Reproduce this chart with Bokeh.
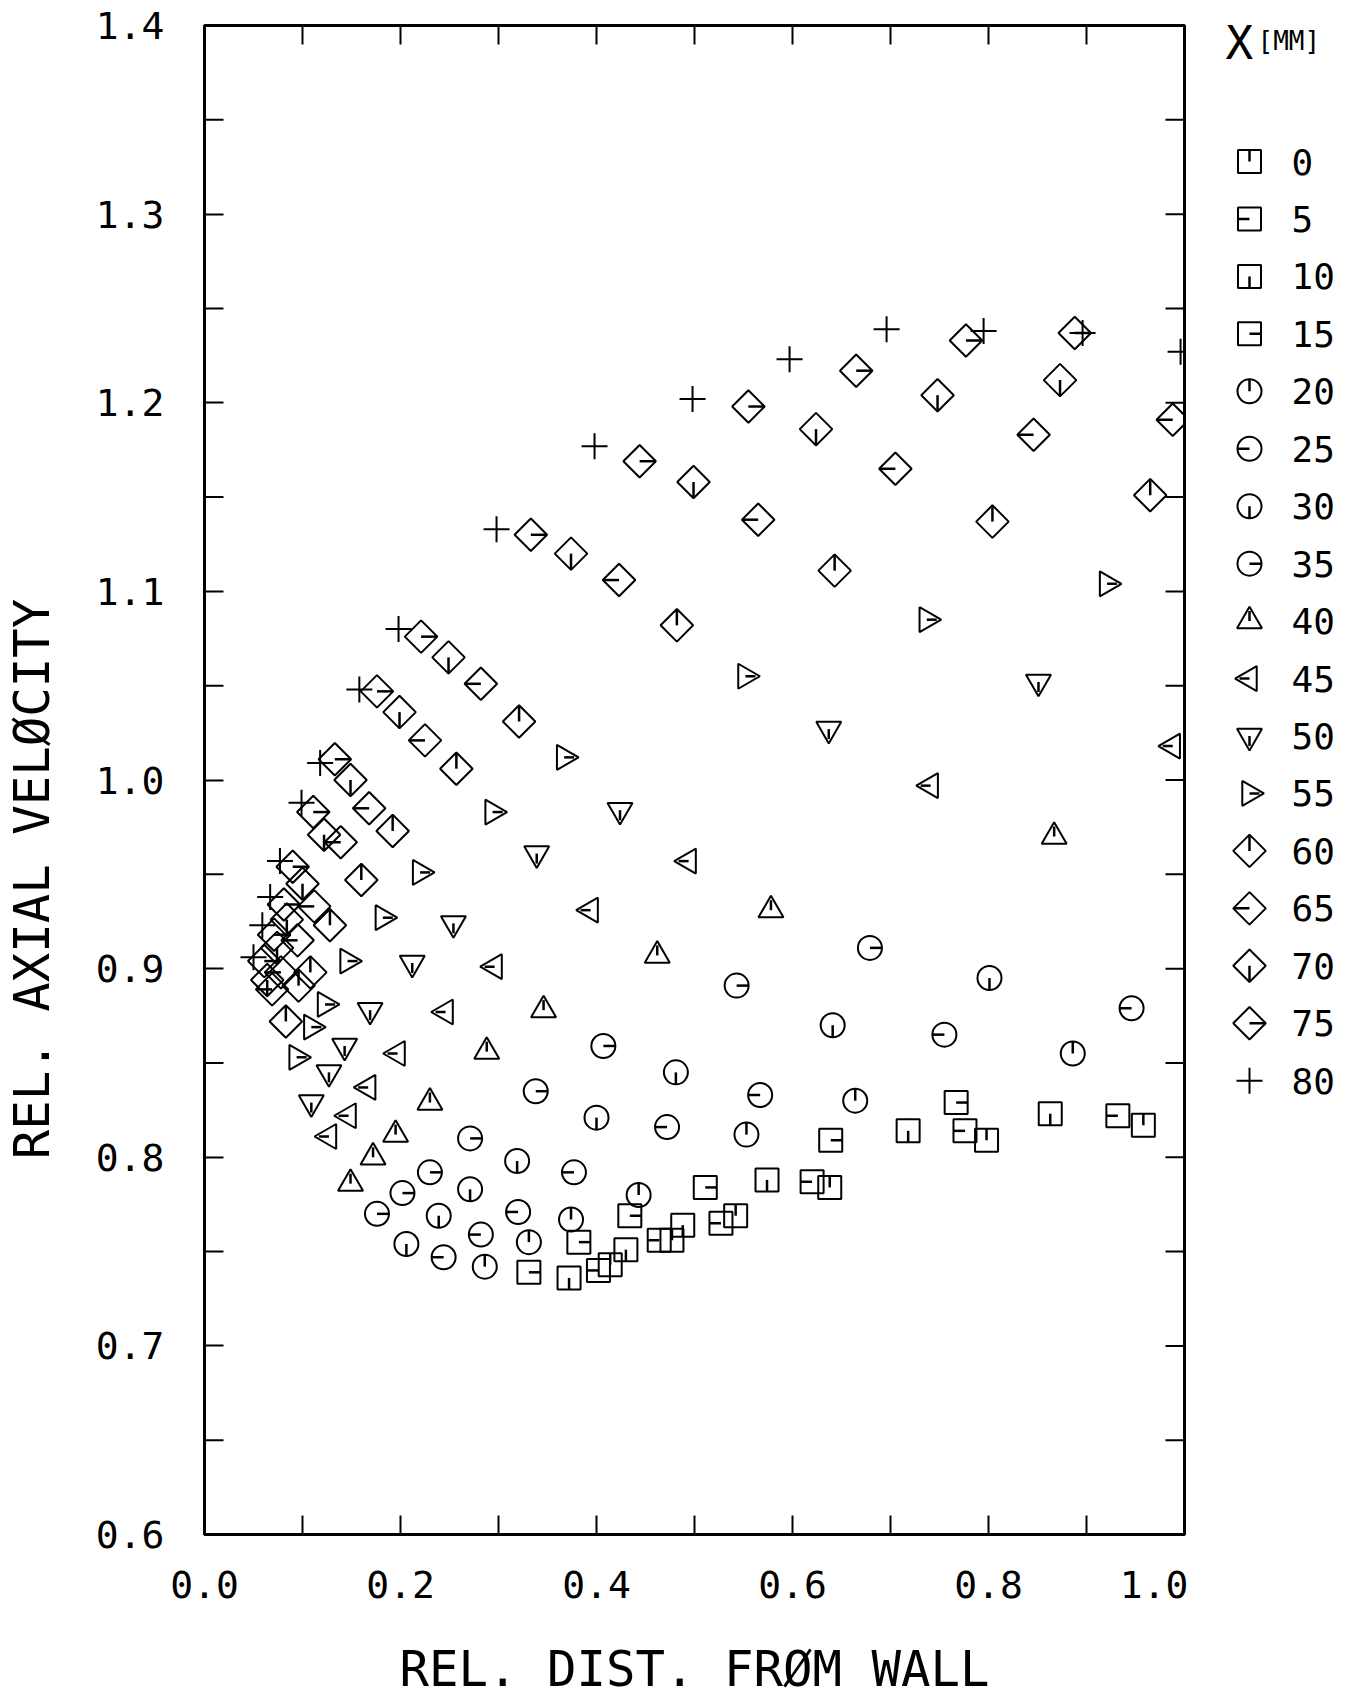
import math
from bokeh.plotting import figure
from bokeh.models import Range1d, LinearAxis, FixedTicker, PrintfTickFormatter
from bokeh.layouts import row
from bokeh.embed import file_html
from bokeh.resources import INLINE
from bokeh.core.properties import value

# ---------------- data ----------------
x_mm_labels = ["0", "5", "10", "15", "20", "25", "30", "35", "40",
               "45", "50", "55", "60", "65", "70", "75", "80"]

d_00 = [0.414, 0.477, 0.542, 0.638, 0.798, 0.958]
v_00 = [0.743, 0.756, 0.769, 0.784, 0.809, 0.817]
d_05 = [0.402, 0.464, 0.527, 0.620, 0.776, 0.932]
v_05 = [0.740, 0.756, 0.765, 0.787, 0.814, 0.822]
d_10 = [0.372, 0.430, 0.488, 0.574, 0.718, 0.863]
v_10 = [0.736, 0.751, 0.764, 0.788, 0.814, 0.823]
d_15 = [0.331, 0.382, 0.434, 0.511, 0.639, 0.767]
v_15 = [0.739, 0.755, 0.769, 0.784, 0.809, 0.829]

d_20 = [0.286, 0.331, 0.374, 0.443, 0.553, 0.664, 0.886]
v_20 = [0.742, 0.755, 0.767, 0.780, 0.812, 0.830, 0.855]
d_25 = [0.244, 0.282, 0.320, 0.377, 0.472, 0.567, 0.755, 0.946]
v_25 = [0.747, 0.759, 0.771, 0.792, 0.816, 0.833, 0.865, 0.879]
d_30 = [0.206, 0.239, 0.271, 0.319, 0.400, 0.481, 0.641, 0.801]
v_30 = [0.754, 0.769, 0.783, 0.798, 0.821, 0.845, 0.870, 0.895]
d_35 = [0.176, 0.202, 0.230, 0.271, 0.338, 0.407, 0.543, 0.679]
v_35 = [0.770, 0.781, 0.792, 0.810, 0.835, 0.859, 0.891, 0.911]

d_40 = [0.149, 0.172, 0.195, 0.230, 0.288, 0.346, 0.462, 0.578, 0.867]
v_40 = [0.786, 0.800, 0.812, 0.829, 0.856, 0.878, 0.907, 0.931, 0.970]
d_45 = [0.127, 0.147, 0.167, 0.197, 0.246, 0.296, 0.394, 0.494, 0.741, 0.988]
v_45 = [0.811, 0.822, 0.837, 0.855, 0.877, 0.901, 0.931, 0.957, 0.997, 1.018]
d_50 = [0.109, 0.127, 0.143, 0.169, 0.212, 0.254, 0.339, 0.424, 0.637, 0.851]
v_50 = [0.829, 0.845, 0.859, 0.878, 0.903, 0.924, 0.961, 0.984, 1.027, 1.052]
d_55 = [0.094, 0.109, 0.123, 0.146, 0.182, 0.220, 0.294, 0.367, 0.552, 0.737, 0.921]
v_55 = [0.853, 0.869, 0.881, 0.904, 0.927, 0.951, 0.983, 1.012, 1.055, 1.085, 1.104]

d_60 = [0.083, 0.096, 0.108, 0.128, 0.160, 0.192, 0.257, 0.321, 0.482, 0.643, 0.804, 0.965]
v_60 = [0.872, 0.891, 0.898, 0.923, 0.947, 0.973, 1.006, 1.031, 1.082, 1.111, 1.137, 1.151]
d_65 = [0.069, 0.078, 0.095, 0.112, 0.139, 0.168, 0.225, 0.282, 0.423, 0.565, 0.705, 0.846, 0.988]
v_65 = [0.889, 0.898, 0.915, 0.933, 0.967, 0.985, 1.021, 1.051, 1.106, 1.138, 1.165, 1.183, 1.191]
d_70 = [0.064, 0.074, 0.084, 0.100, 0.122, 0.149, 0.199, 0.249, 0.374, 0.499, 0.624, 0.748, 0.873]
v_70 = [0.894, 0.911, 0.926, 0.945, 0.971, 1.000, 1.036, 1.065, 1.120, 1.158, 1.186, 1.204, 1.212]
d_75 = [0.061, 0.071, 0.081, 0.090, 0.111, 0.133, 0.176, 0.221, 0.333, 0.444, 0.555, 0.665, 0.777, 0.888]
v_75 = [0.904, 0.918, 0.934, 0.954, 0.983, 1.011, 1.047, 1.076, 1.130, 1.169, 1.198, 1.217, 1.233, 1.237]
d_80 = [0.050, 0.059, 0.067, 0.077, 0.099, 0.118, 0.158, 0.198, 0.298, 0.398, 0.498, 0.597,
        0.696, 0.795, 0.896, 0.996]
v_80 = [0.906, 0.923, 0.938, 0.957, 0.988, 1.009, 1.048, 1.080, 1.133, 1.177, 1.202, 1.223,
        1.239, 1.238, 1.237, 1.227]

x_ticks = [0.0, 0.1, 0.2, 0.3, 0.4, 0.5, 0.6, 0.7, 0.8, 0.9, 1.0]
x_labeled = [0.0, 0.2, 0.4, 0.6, 0.8, 1.0]
y_ticks = [0.6, 0.65, 0.7, 0.75, 0.8, 0.85, 0.9, 0.95, 1.0, 1.05, 1.1, 1.15, 1.2,
           1.25, 1.3, 1.35, 1.4]
y_labeled = [0.6, 0.7, 0.8, 0.9, 1.0, 1.1, 1.2, 1.3, 1.4]

x_title = "REL. DIST. FR\u00d8M WALL"
y_title = "REL. AXIAL VEL\u00d8CITY"
legend_title = "X"
legend_unit = "[MM]"

series_d = [d_00, d_05, d_10, d_15, d_20, d_25, d_30, d_35, d_40,
            d_45, d_50, d_55, d_60, d_65, d_70, d_75, d_80]
series_v = [v_00, v_05, v_10, v_15, v_20, v_25, v_30, v_35, v_40,
            v_45, v_50, v_55, v_60, v_65, v_70, v_75, v_80]

# ---------------- styles ----------------
PI = math.pi
UP, LEFT, DOWN, RIGHT = PI / 2, PI, -PI / 2, 0.0
# (marker, marker angle, size, tick direction, tick length)
styles = [
    ("square", 0.0, 23, UP, 11.5), ("square", 0.0, 23, LEFT, 11.5),
    ("square", 0.0, 23, DOWN, 11.5), ("square", 0.0, 23, RIGHT, 11.5),
    ("circle", 0.0, 24, UP, 12), ("circle", 0.0, 24, LEFT, 12),
    ("circle", 0.0, 24, DOWN, 12), ("circle", 0.0, 24, RIGHT, 12),
    ("triangle", 0.0, 25, UP, 10), ("triangle", PI / 2, 25, LEFT, 10),
    ("triangle", PI, 25, DOWN, 10), ("triangle", -PI / 2, 25, RIGHT, 10),
    ("square", PI / 4, 23, UP, 16), ("square", PI / 4, 23, LEFT, 16),
    ("square", PI / 4, 23, DOWN, 16), ("square", PI / 4, 23, RIGHT, 16),
    ("cross", 0.0, 26, None, 0),
]

FONT = "DejaVu Sans Mono"
LW = 2
TICK = 19

H = 1700
B_TOP, B_BOT = 25, 163          # main frame top / bottom borders (px)
YT_W = 72                        # width of the y-title strip
MAIN_W = 1188 - YT_W
LEG_W = 1348 - 1188

# ---------------- y-title strip ----------------
yt = figure(width=YT_W, height=H, x_range=Range1d(0, YT_W), y_range=Range1d(0, H),
            toolbar_location=None, output_backend="svg",
            x_axis_location=None, y_axis_location=None, min_border=0,
            outline_line_color=None, background_fill_color="white", border_fill_color="white")
yt.frame_align = False
yt.grid.visible = False
yt.text(x=[32], y=[H - 878.5], text=[y_title], angle=PI / 2,
        text_font=value(FONT), text_font_size="49px", text_align="center",
        text_baseline="middle", text_color="black")

# ---------------- main plot ----------------
p = figure(width=MAIN_W, height=H, x_range=Range1d(0, 1), y_range=Range1d(0.6, 1.4),
           toolbar_location=None, output_backend="svg",
           x_axis_location=None, y_axis_location=None,
           min_border_left=204 - YT_W, min_border_right=4, min_border_top=B_TOP,
           min_border_bottom=B_BOT,
           outline_line_color="black", outline_line_width=3,
           background_fill_color="white", border_fill_color="white")
p.grid.visible = False


def style_axis(ax):
    ax.axis_line_width = 3
    ax.axis_line_color = "black"
    ax.major_tick_in = TICK
    ax.major_tick_out = 0
    ax.minor_tick_in = 0
    ax.minor_tick_out = 0
    ax.major_tick_line_width = 2
    ax.major_tick_line_color = "black"
    ax.minor_tick_line_color = None
    ax.major_label_text_font = FONT
    ax.major_label_text_font_size = "38px"
    ax.major_label_text_color = "black"


bottom = LinearAxis(ticker=FixedTicker(ticks=x_labeled), formatter=PrintfTickFormatter(format="%.1f"))
style_axis(bottom)
bottom.major_label_standoff = 36
bottom.axis_label = x_title
bottom.axis_label_text_font = FONT
bottom.axis_label_text_font_size = "49px"
bottom.axis_label_text_font_style = "normal"
bottom.axis_label_text_color = "black"
bottom.axis_label_standoff = 40
p.add_layout(bottom, "below")

left = LinearAxis(ticker=FixedTicker(ticks=y_labeled), formatter=PrintfTickFormatter(format="%.1f"))
style_axis(left)
left.major_label_standoff = 40
p.add_layout(left, "left")

# remaining inward ticks (unlabelled positions, top and right sides)
x_unl = [t for t in x_ticks if t not in x_labeled]
y_unl = [t for t in y_ticks if t not in y_labeled]
tick_kw = dict(length=TICK, length_units="screen", line_color="black", line_width=2)
p.ray(x=x_unl, y=[0.6] * len(x_unl), angle=UP, **tick_kw)
p.ray(x=x_ticks, y=[1.4] * len(x_ticks), angle=DOWN, **tick_kw)
p.ray(x=[0.0] * len(y_unl), y=y_unl, angle=RIGHT, **tick_kw)
p.ray(x=[1.0] * len(y_ticks), y=y_ticks, angle=LEFT, **tick_kw)

for (mk, ang, sz, tdir, tlen), xs, ys in zip(styles, series_d, series_v):
    p.scatter(x=xs, y=ys, marker=mk, angle=ang, size=sz, fill_color=None,
              line_color="black", line_width=LW)
    if tdir is not None:
        p.ray(x=xs, y=ys, length=tlen, length_units="screen", angle=tdir,
              line_color="black", line_width=2.5)

# ---------------- legend panel ----------------
ROW0, DY = 161.0, 57.45          # page y of first legend row and row spacing (px)
leg = figure(width=LEG_W, height=H, x_range=Range1d(0, LEG_W),
             y_range=Range1d(-(H - ROW0) / DY, ROW0 / DY),
             toolbar_location=None, output_backend="svg",
             x_axis_location=None, y_axis_location=None, min_border=0,
             outline_line_color=None, background_fill_color="white", border_fill_color="white")
leg.frame_align = False
leg.grid.visible = False


def page_to_row(py):
    return (ROW0 - py) / DY


MX, TX = 61, 103
for i, ((mk, ang, sz, tdir, tlen), lab) in enumerate(zip(styles, x_mm_labels)):
    yy = -i
    leg.scatter(x=[MX], y=[yy], marker=mk, angle=ang, size=sz, fill_color=None,
                line_color="black", line_width=LW)
    if tdir is not None:
        leg.ray(x=[MX], y=[yy], length=tlen, length_units="screen", angle=tdir,
                line_color="black", line_width=2.5)
    leg.text(x=[TX], y=[yy], text=[lab], text_font=value(FONT), text_font_size="36px",
             text_baseline="middle", text_align="left", text_color="black")

leg.text(x=[37], y=[page_to_row(42)], text=[legend_title], text_font=value(FONT),
         text_font_size="46px", text_baseline="alphabetic", text_align="left", text_color="black")
leg.text(x=[69], y=[page_to_row(40)], text=[legend_unit], text_font=value(FONT),
         text_font_size="26px", text_baseline="alphabetic", text_align="left", text_color="black")

layout = row(yt, p, leg)
open("out.html", "w").write(file_html(layout, INLINE))
